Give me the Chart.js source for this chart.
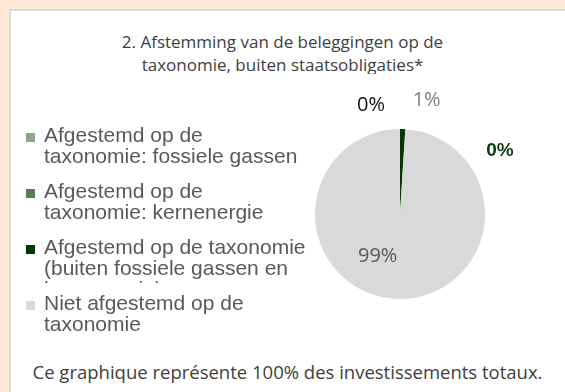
<!DOCTYPE html>
<html>
<head>
<meta charset="utf-8">
<script src="https://cdn.jsdelivr.net/npm/chart.js@4"></script>
<style>
  body { margin: 0; width: 565px; height: 392px; background: #fce8d6; position: relative; overflow: hidden; }
  .panel { position: absolute; left: 9px; top: 9px; right: 0; bottom: 0; background: #fff;
           border-left: 2px solid #dadada; border-top: 2px solid #dadada; }
  .title { position: absolute; left: 0; width: 565px; text-align: center; font-family: "Open Sans", sans-serif;
           font-size: 17px; line-height: 23px; color: #404040; top: 30px; height: 44px; overflow: hidden; }
  .footer { position: absolute; left: 10px; width: 555px; text-align: center; font-family: "Open Sans", sans-serif;
            font-size: 18.5px; color: #404040; top: 359px; white-space: nowrap; }
  canvas { position: absolute; left: 0; top: 0; }
</style>
</head>
<body>
<div class="panel"></div>
<div class="title">2. Afstemming van de beleggingen op de<br>taxonomie, buiten staatsobligaties*</div>
<div class="footer">Ce graphique représente 100% des investissements totaux.</div>
<canvas id="myChart" width="565" height="392"></canvas>
<script>
const categories = [
  "Afgestemd op de\ntaxonomie: fossiele gassen",
  "Afgestemd op de\ntaxonomie: kernenergie",
  "Afgestemd op de taxonomie\n(buiten fossiele gassen en\nkernenergie)",
  "Niet afgestemd op de\ntaxonomie"
]
const shares = [0, 0, 1, 99]
const sliceColors = ["#89a689", "#567b56", "#043704", "#d9d9d9"]

// data label look, one entry per slice
const labelColors = ["#111111", "#0b3d0b", "#7f7f7f", "#595959"]
const labelFonts = [
  "20px 'Open Sans'",
  "bold 19px 'Liberation Sans'",
  "20px 'Open Sans'",
  "20px 'Open Sans'"
]
// label nudges from the slice anchor (outer edge, or half radius for the big slice)
const labelShift = [[-29, -24], [100, 22], [24, -29], [-21, 0]]

const sliceLabels = {
  id: "sliceLabels",
  afterDatasetsDraw(chart) {
    const ctx = chart.ctx
    const meta = chart.getDatasetMeta(0)
    const data = chart.data.datasets[0].data
    const total = data.reduce((a, b) => a + b, 0)
    meta.data.forEach((arc, i) => {
      const p = arc.getProps(["x", "y", "startAngle", "endAngle", "outerRadius"], true)
      const mid = (p.startAngle + p.endAngle) / 2
      const r = data[i] > 50 ? p.outerRadius * 0.5 : p.outerRadius
      const x = p.x + Math.cos(mid) * r + labelShift[i][0]
      const y = p.y + Math.sin(mid) * r + labelShift[i][1]
      ctx.save()
      ctx.font = labelFonts[i]
      ctx.fillStyle = labelColors[i]
      ctx.textAlign = "center"
      ctx.textBaseline = "middle"
      ctx.fillText(Math.round(data[i] / total * 100) + "%", x, y)
      ctx.restore()
    })
  }
}

// Excel style legend on the left, each entry clipped to its own row
const sideLegend = {
  id: "sideLegend",
  afterDraw(chart) {
    const ctx = chart.ctx
    const left = 26, textX = 44, firstRow = 135, rowStep = 56, lineH = 21
    chart.data.labels.forEach((label, i) => {
      const rowY = firstRow + i * rowStep
      ctx.save()
      ctx.beginPath()
      ctx.rect(0, rowY - 14, 312, rowStep - 6)
      ctx.clip()
      ctx.fillStyle = chart.data.datasets[0].backgroundColor[i]
      ctx.fillRect(left, rowY - 2, 9, 9)
      ctx.font = "21px 'Liberation Sans'"
      ctx.fillStyle = "#595959"
      ctx.textBaseline = "middle"
      label.split("\n").forEach((line, j) => {
        ctx.fillText(line, textX, rowY + j * lineH + 1)
      })
      ctx.restore()
    })
  }
}

new Chart(document.getElementById("myChart"), {
  type: "pie",
  data: {
    labels: categories,
    datasets: [{
      data: shares,
      backgroundColor: sliceColors,
      borderWidth: 0
    }]
  },
  options: {
    responsive: false,
    animation: false,
    devicePixelRatio: 1,
    layout: { padding: { left: 315, right: 80, top: 129, bottom: 93 } },
    plugins: {
      legend: { display: false },
      tooltip: { enabled: false }
    }
  },
  plugins: [sliceLabels, sideLegend]
})
</script>
</body>
</html>
